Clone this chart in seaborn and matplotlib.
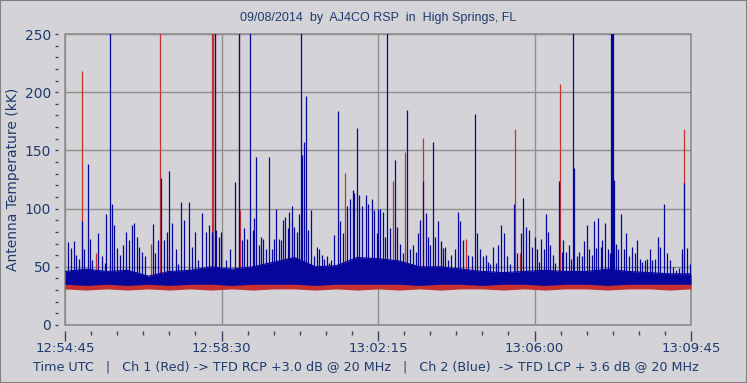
import numpy as np
import pandas as pd
import matplotlib
matplotlib.use("Agg")
import matplotlib.pyplot as plt
from matplotlib.patches import Rectangle
import seaborn as sns

# seconds after 12:54:45 UTC, antenna temperature in kK (values >250 run off the chart)
blue_t = [4, 8, 13, 16, 20, 25, 28, 33, 36, 39, 48, 53, 57, 59, 64, 67, 70, 75, 79, 83,
          88, 92, 96, 99, 104, 107, 111, 115, 126, 130, 134, 138, 143, 147, 150, 154, 159, 162, 167, 171,
          178, 182, 187, 191, 197, 202, 207, 211, 216, 217, 222, 224, 231, 237, 245, 250, 254, 258, 262, 266,
          270, 272, 275, 279, 282, 285, 289, 293, 297, 300, 303, 307, 311, 314, 317, 320, 322, 326, 329, 333,
          336, 339, 341, 344, 347, 350, 354, 358, 362, 365, 369, 372, 376, 380, 383, 387, 392, 396, 399, 406,
          410, 414, 416, 420, 423, 427, 433, 436, 441, 444, 448, 450, 453, 457, 460, 463, 467, 475, 478, 482,
          486, 492, 496, 500, 505, 508, 511, 514, 519, 522, 525, 529, 532, 536, 540, 543, 547, 550, 555, 560,
          565, 568, 572, 579, 585, 590, 593, 597, 601, 605, 608, 611, 615, 619, 622, 627, 631, 635, 640, 646,
          650, 656, 659, 663, 667, 671, 676, 679, 682, 685, 689, 692, 695, 698, 702, 705, 710, 714, 716, 720,
          724, 727, 731, 732, 736, 739, 743, 746, 750, 753, 757, 760, 763, 766, 770, 772, 776, 780, 783, 785,
          786, 787, 788, 789, 792, 795, 799, 803, 807, 811, 815, 819, 822, 826, 830, 834, 837, 841, 844, 848,
          853, 856, 861, 865, 870, 874, 879, 883, 887, 890, 894, 898]
blue_v = [71, 66, 72, 60, 57, 89, 65, 138, 74, 56, 79, 59, 53, 95, 260, 104, 86, 66, 60, 69,
          80, 73, 86, 88, 76, 67, 63, 59, 87, 62, 73, 126, 73, 80, 132, 88, 65, 52, 106, 90,
          106, 67, 80, 56, 96, 80, 86, 80, 260, 82, 76, 80, 56, 65, 123, 260, 73, 83, 74, 260,
          82, 92, 144, 69, 76, 74, 65, 144, 65, 74, 100, 74, 73, 90, 93, 83, 97, 102, 84, 80,
          95, 260, 146, 157, 197, 82, 99, 59, 67, 65, 60, 57, 59, 53, 56, 77, 184, 89, 79, 102,
          108, 116, 113, 169, 112, 102, 112, 104, 108, 99, 79, 100, 100, 97, 76, 260, 83, 142, 84, 70,
          62, 185, 65, 69, 63, 79, 90, 124, 96, 76, 69, 157, 76, 89, 72, 66, 67, 56, 60, 65,
          97, 89, 73, 60, 59, 181, 79, 65, 59, 60, 54, 52, 67, 53, 69, 86, 79, 59, 52, 104,
          62, 79, 109, 84, 82, 67, 76, 65, 54, 74, 65, 95, 80, 69, 60, 53, 124, 63, 73, 63,
          69, 57, 260, 135, 59, 63, 59, 72, 86, 65, 60, 89, 66, 92, 67, 73, 88, 65, 62, 260,
          260, 260, 260, 125, 70, 65, 95, 65, 79, 59, 67, 62, 73, 57, 54, 56, 57, 65, 56, 57,
          76, 67, 104, 62, 56, 50, 47, 49, 65, 122, 66, 52]

red_t = [25, 45, 123, 137, 211, 213, 215, 250, 252, 326, 403, 472, 489, 514, 540, 576, 647, 654, 711, 789, 887, 890]
red_v = [218, 62, 70, 260, 260, 260, 260, 260, 99, 90, 131, 124, 149, 161, 71, 74, 168, 62, 207, 70, 62, 168]

# dense part of the traces, read every 30 s
env_t = list(range(0, 901, 30))
blue_floor = [35, 34, 35, 34, 35, 34, 35, 35, 34, 35, 35, 35, 34, 35, 35, 35,
              35, 34, 35, 35, 34, 35, 35, 34, 35, 35, 34, 35, 35, 35, 35]
blue_body = [46, 48, 46, 47, 42, 46, 47, 50, 48, 50, 54, 58, 50, 51, 58, 57,
             55, 50, 50, 48, 46, 45, 46, 47, 46, 46, 48, 46, 45, 44, 44]
red_floor = [31, 30, 31, 30, 31, 30, 31, 30, 31, 30, 31, 31, 30, 31, 30, 31,
             30, 31, 30, 31, 31, 30, 31, 30, 31, 31, 30, 31, 31, 30, 31]
red_top = [37, 37, 37, 37, 37, 37, 37, 38, 37, 37, 37, 37, 37, 37, 37, 37,
           37, 37, 37, 37, 37, 37, 37, 37, 37, 37, 37, 37, 37, 37, 37]

tick_pos = [0, 225, 450, 675, 900]
tick_lab = ['12:54:45', '12:58:30', '13:02:15', '13:06:00', '13:09:45']

blue_df = pd.DataFrame({'t': blue_t, 'v': blue_v})
red_df = pd.DataFrame({'t': red_t, 'v': red_v})
env = pd.DataFrame({'t': env_t, 'bf': blue_floor, 'bb': blue_body, 'rf': red_floor, 'rt': red_top})

bg = '#D4D4D8'
navy = '#1E3A6E'
blue = '#06069C'
red = '#C83030'

sns.set_style('white')
plt.rcParams['font.family'] = ['DejaVu Sans']

fig = plt.figure(figsize=(7.47, 3.83), dpi=100, facecolor=bg)
ax = fig.add_axes([65 / 747, 1 - 325 / 383, 626 / 747, 291 / 383])
ax.set_facecolor(bg)

# red channel underneath
ax.fill_between(env['t'], env['rf'], env['rt'], color=red, lw=0, zorder=2)
ax.vlines(red_df['t'], 33, red_df['v'], color=red, lw=0.9, zorder=2)
# blue channel on top
ax.fill_between(env['t'], env['bf'], env['bb'], color=blue, lw=0, zorder=3)
sns.lineplot(data=env, x='t', y='bb', color=blue, lw=0.8, ax=ax, zorder=3)
ax.vlines(blue_df['t'], 36, blue_df['v'], color=blue, lw=0.9, zorder=3)

ax.set_xlim(0, 900)
ax.set_ylim(0, 250)
ax.set_xticks(tick_pos)
ax.set_xticklabels(tick_lab)
ax.set_xticks(np.arange(0, 901, 37.5), minor=True)
ax.set_yticks(range(0, 251, 50))
ax.set_yticks(range(0, 251, 10), minor=True)
ax.grid(True, which='major', color='#8E8E8E', lw=1.0, zorder=1)
ax.set_axisbelow(True)
ax.set_xlabel('')
ax.set_ylabel('Antenna Temperature (kK)', color=navy, fontsize=10)
ax.yaxis.set_label_coords(-45 / 626, 0.5)

for s in ax.spines.values():
    s.set_visible(False)
ax.spines['left'].set_position(('outward', 5))
ax.spines['bottom'].set_position(('outward', 4))
ax.patch.set_edgecolor('#8E8E8E')
ax.patch.set_linewidth(1.2)

ax.tick_params(axis='x', which='major', direction='out', length=7, width=1, color='#404060',
               labelsize=9.5, labelcolor=navy, pad=1, bottom=True)
ax.tick_params(axis='x', which='minor', direction='out', length=3, width=1, color='#404060', bottom=True)
ax.tick_params(axis='y', which='major', direction='out', length=2, width=1, color='#404060',
               labelsize=10, labelcolor=navy, pad=3, left=True)
ax.tick_params(axis='y', which='minor', direction='out', length=2, width=1, color='#404060', left=True)

fig.text(378 / 747, 1 - 18 / 383, '09/08/2014  by  AJ4CO RSP  in  High Springs, FL',
         ha='center', va='center', color=navy, fontsize=9, family='Liberation Sans')
fig.text(366 / 747, 1 - 367 / 383,
         'Time UTC   |   Ch 1 (Red) -> TFD RCP +3.0 dB @ 20 MHz   |   Ch 2 (Blue)  -> TFD LCP + 3.6 dB @ 20 MHz',
         ha='center', va='center', color=navy, fontsize=9.2)

fig.patches.append(Rectangle((0, 0), 1, 1, transform=fig.transFigure, fill=False,
                             edgecolor='#808080', lw=1.5))

fig.savefig('out.png', dpi=100, facecolor=bg)
